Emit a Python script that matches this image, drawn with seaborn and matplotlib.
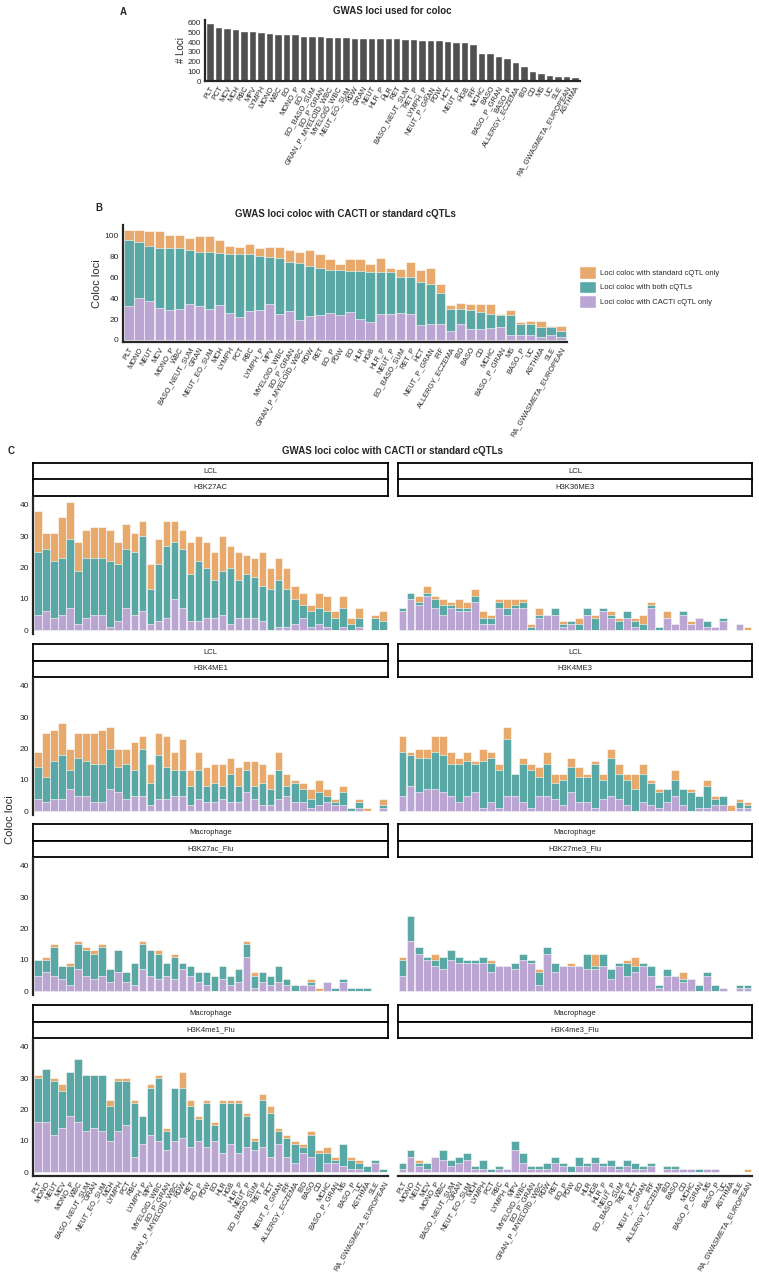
import numpy as np
import pandas as pd
import seaborn as sns
import matplotlib.pyplot as plt
from matplotlib.patches import Patch

sns.set_style('white')
plt.rcParams['font.family'] = ['Liberation Sans', 'DejaVu Sans']

# ---- panel A data ----
a_traits = ['PLT', 'PCT', 'MCV', 'MCH', 'RBC', 'MPV', 'LYMPH', 'MONO', 'WBC', 'EO',
            'MONO_P', 'EO_P', 'EO_BASO_SUM', 'EO_P_GRAN', 'GRAN_P_MYELOID_WBC', 'MYELOID_WBC',
            'NEUT_EO_SUM', 'RDW', 'GRAN', 'NEUT', 'HLR_P', 'HLR', 'RET', 'BASO_NEUT_SUM', 'RET_P',
            'LYMPH_P', 'NEUT_P_GRAN', 'PDW', 'HCT', 'NEUT_P', 'HGB', 'IRF', 'MCHC', 'BASO',
            'BASO_P_GRAN', 'BASO_P', 'ALLERGY_ECZEMA', 'IBD', 'CD', 'MS', 'UC', 'SLE',
            'RA_GWASMETA_EUROPEAN', 'ASTHMA']
a_loci = [600, 560, 545, 535, 515, 515, 505, 500, 485, 485, 485, 465, 465, 460, 455, 450,
          450, 445, 445, 440, 440, 440, 440, 435, 430, 425, 425, 420, 415, 405, 400, 380,
          290, 285, 260, 235, 195, 155, 105, 80, 65, 50, 50, 45]

# ---- panel B / C trait order ----
traits = ['PLT', 'MONO', 'NEUT', 'MCV', 'MONO_P', 'WBC', 'BASO_NEUT_SUM', 'GRAN', 'NEUT_EO_SUM',
          'MCH', 'LYMPH', 'PCT', 'RBC', 'LYMPH_P', 'MPV', 'MYELOID_WBC', 'EO_P_GRAN',
          'GRAN_P_MYELOID_WBC', 'RDW', 'RET', 'EO_P', 'PDW', 'EO', 'HLR', 'HGB', 'HLR_P', 'NEUT_P',
          'EO_BASO_SUM', 'RET_P', 'HCT', 'NEUT_P_GRAN', 'IRF', 'ALLERGY_ECZEMA', 'IBD', 'BASO', 'CD',
          'MCHC', 'BASO_P_GRAN', 'MS', 'BASO_P', 'UC', 'ASTHMA', 'SLE', 'RA_GWASMETA_EUROPEAN']

# cumulative heights: cacti only, cacti + both, total
b_cacti = [32, 40, 37, 31, 29, 30, 34, 32, 30, 33, 26, 22, 28, 29, 34, 25, 28, 19, 23, 24, 26, 24,
           27, 20, 17, 25, 25, 26, 25, 14, 15, 15, 9, 15, 10, 10, 11, 12, 5, 5, 5, 3, 5, 3]
b_both = [96, 94, 90, 88, 88, 88, 86, 84, 84, 83, 82, 82, 82, 80, 79, 78, 75, 74, 71, 69, 67, 67,
          66, 66, 65, 65, 65, 60, 60, 55, 54, 45, 30, 30, 29, 27, 25, 24, 24, 15, 15, 12, 12, 9]
b_total = [105, 105, 104, 104, 100, 100, 98, 99, 99, 96, 90, 89, 92, 88, 89, 89, 86, 84, 86, 82,
           77, 73, 77, 77, 73, 78, 69, 68, 75, 67, 69, 54, 33, 35, 34, 34, 34, 25, 29, 17, 18, 18,
           13, 13]

# ---- panel C facets ----
cell_types = ['LCL', 'LCL', 'LCL', 'LCL', 'Macrophage', 'Macrophage', 'Macrophage', 'Macrophage']
marks = ['H3K27AC', 'H3K36ME3', 'H3K4ME1', 'H3K4ME3',
         'H3K27ac_Flu', 'H3K27me3_Flu', 'H3K4me1_Flu', 'H3K4me3_Flu']

c_cacti = [
    [5, 6, 4, 5, 7, 2, 4, 5, 5, 1, 3, 7, 5, 6, 2, 3, 4, 10, 7, 3, 3, 4, 4, 5, 2, 4, 4, 4, 3, 0, 1, 1,
     2, 4, 1, 2, 1, 0, 1, 0, 1, 0, 0, 0],
    [6, 10, 8, 11, 7, 5, 7, 6, 6, 9, 2, 2, 7, 5, 7, 7, 0, 4, 5, 5, 1, 2, 0, 5, 0, 6, 4, 0, 4, 1, 0, 7,
     0, 4, 2, 5, 2, 4, 1, 1, 3, 0, 2, 0],
    [4, 3, 4, 4, 7, 5, 5, 3, 3, 7, 6, 4, 5, 5, 2, 4, 4, 5, 5, 2, 4, 3, 3, 4, 3, 3, 6, 4, 2, 2, 4, 5,
     3, 3, 1, 2, 3, 2, 2, 0, 1, 0, 0, 1],
    [5, 8, 6, 7, 7, 6, 5, 3, 5, 6, 1, 3, 1, 5, 5, 3, 1, 5, 5, 4, 2, 6, 3, 3, 1, 4, 5, 4, 2, 0, 3, 2,
     1, 3, 5, 2, 0, 1, 1, 2, 2, 0, 1, 1],
    [5, 6, 5, 4, 2, 7, 5, 4, 5, 3, 6, 3, 2, 7, 5, 4, 5, 4, 7, 5, 3, 2, 0, 4, 2, 3, 11, 1, 3, 2, 3, 2,
     0, 2, 2, 0, 3, 0, 3, 0, 0, 0, 0, 0],
    [5, 16, 12, 10, 8, 7, 10, 9, 9, 9, 9, 6, 8, 8, 7, 10, 9, 2, 12, 6, 8, 8, 8, 7, 7, 8, 4, 8, 5, 6,
     8, 5, 1, 5, 5, 3, 4, 0, 5, 0, 1, 0, 1, 1],
    [16, 16, 12, 14, 18, 16, 13, 14, 13, 10, 13, 15, 5, 9, 12, 10, 7, 10, 11, 8, 10, 8, 10, 6, 9, 6,
     8, 7, 8, 5, 9, 5, 3, 6, 5, 0, 3, 3, 2, 1, 1, 0, 3, 0],
    [1, 5, 2, 1, 5, 4, 2, 3, 4, 1, 1, 0, 1, 1, 7, 3, 1, 1, 1, 3, 2, 0, 2, 2, 3, 2, 2, 1, 2, 1, 1, 2,
     0, 1, 1, 1, 1, 0, 1, 1, 0, 0, 0, 0],
]
c_both = [
    [25, 26, 22, 23, 29, 19, 23, 23, 23, 22, 21, 26, 25, 30, 13, 21, 27, 28, 26, 18, 22, 20, 16, 19,
     20, 16, 18, 17, 14, 13, 16, 13, 10, 8, 6, 7, 6, 4, 7, 2, 4, 0, 4, 3],
    [7, 12, 9, 12, 10, 8, 8, 7, 7, 11, 4, 4, 9, 7, 8, 9, 1, 5, 5, 7, 2, 3, 2, 7, 4, 7, 5, 3, 6, 3, 2, 8,
     1, 4, 2, 6, 2, 4, 3, 1, 4, 0, 2, 0],
    [14, 11, 16, 18, 13, 17, 16, 15, 15, 20, 14, 15, 13, 20, 9, 18, 14, 13, 13, 8, 13, 8, 9, 8, 12, 8,
     13, 8, 9, 7, 13, 8, 9, 7, 4, 6, 5, 3, 6, 1, 3, 0, 0, 2],
    [19, 18, 17, 17, 19, 18, 15, 15, 16, 15, 16, 17, 13, 23, 12, 15, 13, 11, 15, 9, 10, 14, 11, 11,
     15, 10, 17, 12, 10, 7, 12, 9, 6, 7, 10, 7, 6, 5, 8, 4, 5, 0, 3, 2],
    [10, 10, 14, 8, 8, 15, 13, 12, 14, 7, 13, 6, 9, 15, 13, 12, 9, 11, 9, 8, 6, 6, 5, 8, 5, 7, 15, 5,
     6, 5, 8, 4, 2, 2, 3, 0, 3, 1, 4, 1, 1, 1, 0, 0],
    [10, 24, 14, 11, 10, 11, 13, 11, 10, 10, 11, 9, 8, 8, 9, 12, 10, 6, 14, 9, 8, 8, 8, 12, 8, 12, 7,
     9, 9, 8, 9, 8, 2, 7, 5, 4, 4, 2, 6, 2, 1, 0, 2, 2],
    [30, 33, 29, 26, 32, 36, 31, 31, 31, 21, 29, 29, 22, 18, 27, 30, 13, 27, 27, 21, 17, 22, 15, 22,
     22, 22, 18, 10, 23, 19, 13, 11, 9, 8, 12, 6, 6, 4, 9, 4, 3, 2, 4, 1],
    [3, 7, 3, 3, 5, 7, 4, 5, 6, 2, 4, 1, 2, 1, 10, 6, 2, 2, 3, 5, 3, 2, 5, 3, 5, 3, 4, 2, 4, 3, 2, 3,
     0, 2, 2, 1, 1, 1, 1, 1, 0, 0, 0, 0],
]
c_total = [
    [38, 31, 31, 36, 41, 28, 32, 33, 33, 32, 28, 34, 31, 35, 21, 29, 35, 35, 32, 28, 30, 28, 25, 30,
     27, 25, 24, 23, 25, 20, 23, 20, 14, 12, 8, 12, 11, 6, 11, 4, 7, 0, 5, 6],
    [7, 12, 11, 14, 11, 10, 9, 10, 9, 13, 6, 5, 10, 10, 10, 10, 2, 7, 5, 7, 3, 3, 4, 7, 5, 7, 6, 4, 6,
     4, 5, 9, 1, 6, 2, 6, 3, 4, 3, 1, 4, 0, 2, 1],
    [19, 25, 26, 28, 20, 25, 25, 25, 26, 27, 20, 20, 22, 24, 15, 25, 24, 19, 23, 13, 19, 14, 15, 15,
     17, 14, 16, 16, 15, 12, 19, 12, 10, 9, 7, 10, 7, 4, 8, 1, 4, 1, 0, 4],
    [24, 19, 20, 20, 24, 24, 19, 17, 19, 16, 20, 19, 15, 27, 12, 17, 15, 14, 19, 12, 12, 17, 14, 12,
     16, 12, 20, 15, 12, 12, 15, 10, 7, 7, 13, 7, 7, 5, 10, 5, 5, 2, 4, 3],
    [10, 11, 15, 8, 9, 16, 14, 13, 15, 7, 13, 6, 9, 16, 13, 13, 9, 12, 9, 8, 6, 6, 5, 8, 5, 7, 16, 6,
     6, 5, 8, 4, 2, 2, 4, 1, 3, 1, 4, 1, 1, 1, 0, 0],
    [11, 24, 14, 11, 12, 11, 13, 11, 10, 10, 11, 10, 8, 8, 9, 12, 10, 7, 14, 9, 8, 9, 8, 12, 12, 12,
     7, 9, 10, 11, 9, 8, 2, 7, 5, 6, 4, 2, 6, 2, 1, 0, 2, 2],
    [31, 33, 30, 28, 32, 36, 31, 31, 31, 23, 30, 30, 23, 18, 28, 31, 14, 27, 32, 23, 18, 23, 16, 23,
     23, 23, 19, 11, 25, 21, 14, 12, 10, 9, 13, 7, 8, 5, 9, 5, 4, 2, 4, 1],
    [3, 7, 4, 3, 5, 7, 4, 5, 6, 2, 4, 1, 2, 1, 10, 6, 2, 2, 3, 5, 3, 2, 5, 3, 5, 3, 4, 2, 4, 3, 2, 3,
     0, 2, 2, 1, 1, 1, 1, 1, 0, 0, 0, 1],
]

ORANGE = '#E8AA6C'
TEAL = '#5AA8A6'
PURPLE = '#BBA5D3'
W, H = 759, 1280


def box(x0, y0, x1, y1):
    return [x0 / W, 1 - y1 / H, (x1 - x0) / W, (y1 - y0) / H]


def stacked(ax, order, cacti, both, total):
    df = pd.DataFrame({'trait': order, 'cacti': cacti, 'both': both, 'total': total})
    for col, colr in [('total', ORANGE), ('both', TEAL), ('cacti', PURPLE)]:
        sns.barplot(data=df, x='trait', y=col, order=order, color=colr, saturation=1,
                    width=0.92, edgecolor='white', linewidth=0.4, ax=ax)
    ax.set_xlabel('')
    ax.set_ylabel('')
    ax.set_xlim(-0.6, len(order) - 0.4)


def style(ax, left=True, bottom=True, fs=6):
    sns.despine(ax=ax)
    for s in ['left', 'bottom']:
        ax.spines[s].set_linewidth(1.6)
    ax.spines['left'].set_visible(left)
    ax.spines['bottom'].set_visible(bottom)
    ax.tick_params(axis='both', length=2, width=0.6, labelsize=fs, pad=1)


def rotate(ax, fs=5.3):
    ax.tick_params(axis='x', labelrotation=60, labelsize=fs)
    for lab in ax.get_xticklabels():
        lab.set_ha('right')
        lab.set_rotation_mode('anchor')


fig = plt.figure(figsize=(W / 100, H / 100), dpi=100)

# ---- A ----
axA = fig.add_axes(box(205, 20, 580, 81))
sns.barplot(x=a_traits, y=a_loci, order=a_traits, color='#505050', saturation=1,
            width=0.88, ax=axA)
axA.set_xlim(-0.6, len(a_traits) - 0.4)
axA.set_yticks(range(0, 601, 100))
axA.set_ylabel('# Loci', fontsize=7, labelpad=1)
style(axA, fs=5.8)
rotate(axA)
axA.set_title('GWAS loci used for coloc', fontsize=7, fontweight='bold', pad=4)
fig.text(120 / W, 1 - 12 / H, 'A', fontsize=7, fontweight='bold', va='center')

# ---- B ----
axB = fig.add_axes(box(123, 225, 567, 342))
stacked(axB, traits, b_cacti, b_both, b_total)
axB.set_yticks(range(0, 101, 20))
axB.set_ylim(-2, 110)
axB.set_ylabel('Coloc loci', fontsize=8, labelpad=2)
style(axB)
rotate(axB)
axB.set_title('GWAS loci coloc with CACTI or standard cQTLs', fontsize=7, fontweight='bold',
              pad=6)
fig.text(95 / W, 1 - 208 / H, 'B', fontsize=7, fontweight='bold', va='center')
handles = [Patch(facecolor=ORANGE, edgecolor='white'), Patch(facecolor=TEAL, edgecolor='white'),
           Patch(facecolor=PURPLE, edgecolor='white')]
fig.legend(handles, ['Loci coloc with standard cQTL only', 'Loci coloc with both cQTLs',
                     'Loci coloc with CACTI cQTL only'],
           loc='center left', bbox_to_anchor=(572 / W, 1 - 287 / H), frameon=False, fontsize=5.5,
           handlelength=2.2, handleheight=2.2, labelspacing=0.25, handletextpad=0.6)

# ---- C ----
fig.text(8 / W, 1 - 451 / H, 'C', fontsize=7, fontweight='bold', va='center')
fig.text(392 / W, 1 - 451 / H, 'GWAS loci coloc with CACTI or standard cQTLs', fontsize=7,
         fontweight='bold', ha='center', va='center')
fig.text(10 / W, 1 - 820 / H, 'Coloc loci', fontsize=8, rotation=90, ha='center', va='center')

col_x = [(33, 388), (398, 752)]
row_top = [463, 644, 824, 1005]
for i in range(8):
    r, c = divmod(i, 2)
    x0, x1 = col_x[c]
    t = row_top[r]
    for k, txt in enumerate([cell_types[i], marks[i]]):
        sax = fig.add_axes(box(x0, t + k * 16.5, x1, t + (k + 1) * 16.5))
        sax.set_xticks([])
        sax.set_yticks([])
        for s in sax.spines.values():
            s.set_linewidth(1.3)
            s.set_color('black')
        sax.text(0.5, 0.5, txt, fontsize=5.5, ha='center', va='center', color='#222222',
                 transform=sax.transAxes)
    ax = fig.add_axes(box(x0, t + 34, x1, t + 171))
    stacked(ax, traits, c_cacti[i], c_both[i], c_total[i])
    ax.set_ylim(-1.2, 42.5)
    ax.set_yticks(range(0, 41, 10))
    style(ax, left=(c == 0), bottom=(r == 3))
    if c == 1:
        ax.set_yticklabels([])
        ax.tick_params(axis='y', length=0)
    if r == 3:
        rotate(ax)
    else:
        ax.set_xticks([])

fig.savefig('out.png', dpi=100)
